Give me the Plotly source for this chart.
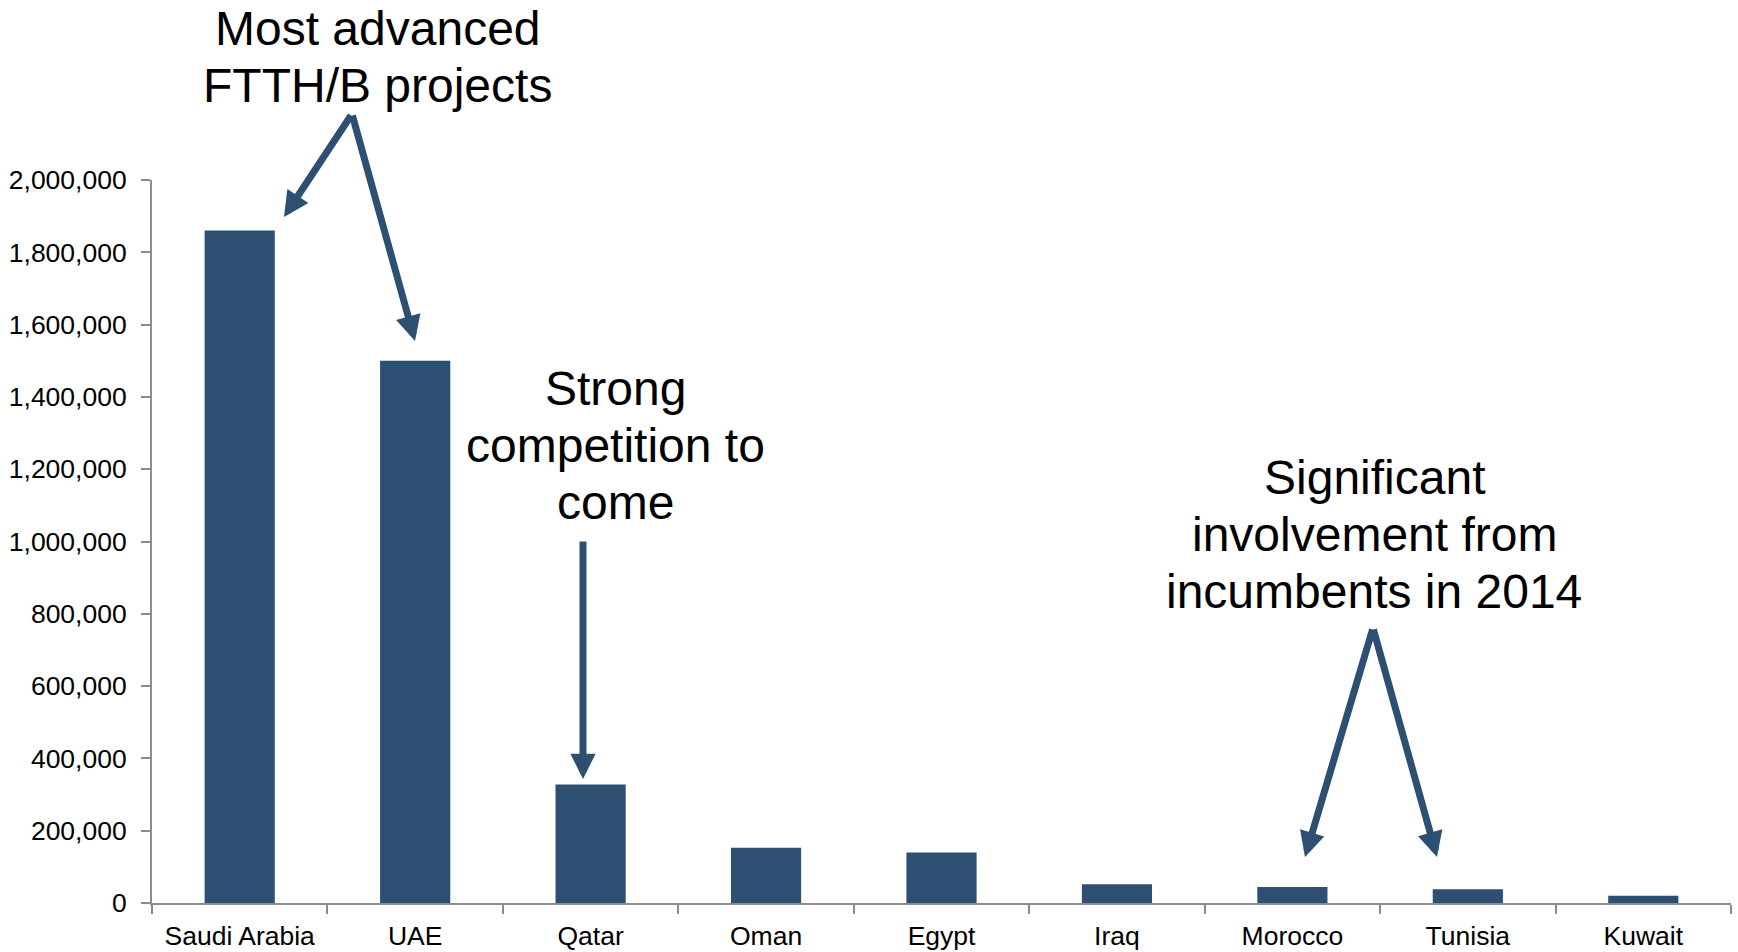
import plotly.graph_objects as go

countries = ["Saudi Arabia", "UAE", "Qatar", "Oman", "Egypt", "Iraq", "Morocco", "Tunisia", "Kuwait"]
values = [1860000, 1500000, 328000, 153000, 140000, 52000, 44000, 38000, 20000]
y_ticks = [0, 200000, 400000, 600000, 800000, 1000000, 1200000, 1400000, 1600000, 1800000, 2000000]

W, H = 1738, 952
L, R, T, B = 152, 7, 180, 49
PW, PH = W - L - R, H - T - B
BAR = "#2C4F72"
FONT = "Liberation Sans, Arial, sans-serif"

def px(x):
    return (x - L) / PW

def py(y):
    return (H - B - y) / PH

fig = go.Figure(go.Bar(x=countries, y=values, marker=dict(color=BAR, line=dict(width=0)), width=0.4))

text_lines = [
    ("Most advanced", 378, 28),
    ("FTTH/B projects", 377, 85),
    ("Strong", 615, 388),
    ("competition to", 615, 445),
    ("come", 615, 502),
    ("Significant", 1374, 477),
    ("involvement from", 1374, 534),
    ("incumbents in 2014", 1374, 591),
]
anns = []
for t, x, y in text_lines:
    anns.append(dict(text=t, x=px(x), y=py(y), xref="paper", yref="paper",
                     xanchor="center", yanchor="middle", showarrow=False,
                     font=dict(family=FONT, size=48, color="#000000")))

arrows = [
    ((352, 114), (284, 217)),
    ((352, 114), (415, 341)),
    ((583, 540), (583, 779)),
    ((1373, 628), (1305, 857)),
    ((1373, 628), (1437, 857)),
]
for (x0, y0), (x1, y1) in arrows:
    anns.append(dict(text="", x=px(x1), y=py(y1), xref="paper", yref="paper",
                     ax=x0 - x1, ay=y0 - y1, axref="pixel", ayref="pixel",
                     showarrow=True, arrowhead=2, arrowsize=0.72, arrowwidth=7,
                     arrowcolor=BAR, standoff=0, startstandoff=0))

fig.update_layout(
    width=W, height=H,
    margin=dict(l=L, r=R, t=T, b=B, pad=0, autoexpand=False),
    paper_bgcolor="white", plot_bgcolor="white",
    showlegend=False, bargap=0.6,
    font=dict(family=FONT, size=26, color="#000000"),
    annotations=anns,
    xaxis=dict(type="category", range=[-0.5, 8.5], showline=True, linecolor="#8C8C8C", linewidth=2,
               ticks="outside", tickson="boundaries", ticklen=9, tickcolor="#8C8C8C", tickwidth=2,
               showgrid=False, zeroline=False, tickfont=dict(family=FONT, size=26.5, color="#000000"),
               ticklabelstandoff=8, automargin=False),
    yaxis=dict(range=[0, 2000000], tickvals=y_ticks, tickformat=",", showline=True,
               linecolor="#8C8C8C", linewidth=2, ticks="outside", ticklen=9, tickcolor="#8C8C8C",
               tickwidth=2, showgrid=False, zeroline=False,
               tickfont=dict(family=FONT, size=26.5, color="#000000"), ticklabelstandoff=9,
               automargin=False),
)

fig.write_html("out.html")
